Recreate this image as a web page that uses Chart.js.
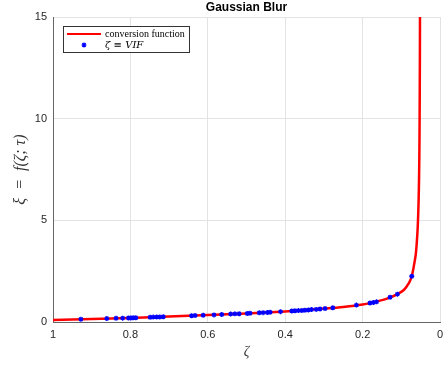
<!DOCTYPE html>
<html>
<head>
<meta charset="utf-8">
<script src="https://cdn.jsdelivr.net/npm/chart.js@4/dist/chart.umd.min.js"></script>
<style>
  html, body { margin: 0; padding: 0; background: #fff; }
  #wrap { width: 446px; height: 365px; }
</style>
</head>
<body>
<div id="wrap"><canvas id="blurChart" width="446" height="365"></canvas></div>
<script>
// conversion curve (zeta, xi)
const curveZeta = [1.0, 0.9, 0.8, 0.7, 0.6, 0.5, 0.4, 0.3, 0.25, 0.2, 0.155, 0.13, 0.11, 0.095, 0.085,
  0.078, 0.073, 0.069, 0.0628, 0.06, 0.0575, 0.0555, 0.054, 0.053, 0.0523, 0.0519, 0.0517];
const curveXi = [0.10, 0.15, 0.20, 0.27, 0.34, 0.42, 0.52, 0.66, 0.74, 0.86, 1.05, 1.2, 1.37, 1.55, 1.78,
  2.0, 2.25, 2.6, 3.3, 3.9, 4.7, 5.8, 7.2, 9.0, 11.5, 13.5, 15.5];

// measured VIF samples (blue stars)
const vifZeta = [0.928, 0.861, 0.837, 0.820, 0.805, 0.799, 0.793, 0.786, 0.749, 0.741, 0.732, 0.724, 0.715,
  0.642, 0.633, 0.612, 0.584, 0.564, 0.541, 0.530, 0.519, 0.498, 0.491, 0.467, 0.457, 0.446, 0.439,
  0.412, 0.383, 0.375, 0.366, 0.357, 0.349, 0.340, 0.332, 0.320, 0.310, 0.297, 0.277, 0.216,
  0.181, 0.172, 0.164, 0.129, 0.110, 0.073];
const vifXi = [0.14, 0.17, 0.18, 0.19, 0.20, 0.20, 0.21, 0.21, 0.23, 0.24, 0.25, 0.25, 0.26,
  0.31, 0.32, 0.33, 0.35, 0.37, 0.39, 0.40, 0.41, 0.42, 0.43, 0.45, 0.46, 0.47, 0.48,
  0.51, 0.54, 0.55, 0.56, 0.57, 0.58, 0.59, 0.61, 0.62, 0.64, 0.66, 0.70, 0.83,
  0.93, 0.96, 0.99, 1.22, 1.37, 2.25];

const xTicks = [1, 0.8, 0.6, 0.4, 0.2, 0];
const yTicks = [0, 5, 10, 15];
const titleText = "Gaussian Blur";
const legendLabels = ["conversion function", "\u03B6 \u2261 VIF"];

const curvePts = curveZeta.map((z, i) => ({ x: z, y: curveXi[i] }));
const vifPts = vifZeta.map((z, i) => ({ x: z, y: vifXi[i] }));

// title centred over the axes, legend box inside the axes
const axesDecor = {
  id: "axesDecor",
  afterDraw(chart) {
    const c = chart.ctx;
    const a = chart.chartArea;
    c.save();
    c.fillStyle = "#000";
    c.textAlign = "center";
    c.textBaseline = "middle";
    c.font = 'bold 12px "Liberation Sans", Arial';
    c.fillText(titleText, (a.left + a.right) / 2, 8);

    const x0 = a.left + 10, y0 = a.top + 9;
    c.textAlign = "left";
    c.fillStyle = "#fff";
    c.fillRect(x0, y0, 126, 26);
    c.strokeStyle = "#333";
    c.lineWidth = 1;
    c.strokeRect(x0 + 0.5, y0 + 0.5, 126, 26);
    c.strokeStyle = "#ff0000";
    c.lineWidth = 2;
    c.beginPath();
    c.moveTo(x0 + 4, y0 + 8);
    c.lineTo(x0 + 38, y0 + 8);
    c.stroke();
    c.fillStyle = "#000";
    c.font = '10px "Liberation Serif"';
    c.fillText(legendLabels[0], x0 + 42, y0 + 8);
    c.font = 'italic 10px "DejaVu Serif"';
    c.fillText(legendLabels[1], x0 + 42, y0 + 19);
    // star marker
    const sx = x0 + 21, sy = y0 + 19;
    c.strokeStyle = "#0000ff";
    c.lineWidth = 1.2;
    c.beginPath();
    for (let k = 0; k < 4; k++) {
      const ang = k * Math.PI / 4;
      c.moveTo(sx - 2.5 * Math.cos(ang), sy - 2.5 * Math.sin(ang));
      c.lineTo(sx + 2.5 * Math.cos(ang), sy + 2.5 * Math.sin(ang));
    }
    c.stroke();
    c.restore();
  }
};

const tickFont = { family: '"Liberation Sans", Arial', size: 11 };

const config = {
  type: "scatter",
  data: {
    datasets: [
      {
        label: legendLabels[0],
        data: curvePts,
        showLine: true,
        borderColor: "#ff0000",
        borderWidth: 2.5,
        pointRadius: 0,
        tension: 0.3,
        order: 2,
      },
      {
        label: legendLabels[1],
        data: vifPts,
        showLine: false,
        pointStyle: "star",
        pointRadius: 2.5,
        borderColor: "#0000ff",
        backgroundColor: "#0000ff",
        pointBorderWidth: 1.3,
        order: 1,
      },
    ],
  },
  options: {
    responsive: false,
    animation: false,
    layout: { padding: { top: 17, right: 6, left: 0, bottom: 0 } },
    plugins: {
      legend: { display: false },
      tooltip: { enabled: false },
    },
    scales: {
      x: {
        type: "linear",
        reverse: true,
        min: 0,
        max: 1,
        afterBuildTicks: (s) => { s.ticks = xTicks.map((v) => ({ value: v })); },
        afterFit: (s) => { s.height = 43; s.paddingLeft = 0; s.paddingRight = 0; },
        grid: { color: "#e3e3e3", drawTicks: false },
        border: { color: "#666", width: 1 },
        ticks: { color: "#262626", padding: 6, font: tickFont, callback: (v) => String(v) },
        title: {
          display: true,
          text: "\u03B6",
          color: "#333",
          padding: { top: 3 },
          font: { family: '"Liberation Serif"', size: 14, style: "italic" },
        },
      },
      y: {
        min: 0,
        max: 15,
        afterBuildTicks: (s) => { s.ticks = yTicks.map((v) => ({ value: v })); },
        afterFit: (s) => { s.width = 53; s.paddingTop = 0; s.paddingBottom = 0; },
        grid: { color: "#e3e3e3", drawTicks: false },
        border: { color: "#666", width: 1 },
        ticks: { color: "#262626", padding: 6, font: tickFont },
        title: {
          display: true,
          text: "\u03BE  =  f(\u03B6; \u03C4)",
          color: "#333",
          padding: { top: 11, bottom: 0 },
          font: { family: '"Liberation Serif"', size: 16, style: "italic", lineHeight: 1.2 },
        },
      },
    },
  },
  plugins: [axesDecor],
};

const ctx = document.getElementById("blurChart").getContext("2d");
const blurChart = new Chart(ctx, config);
</script>
</body>
</html>
